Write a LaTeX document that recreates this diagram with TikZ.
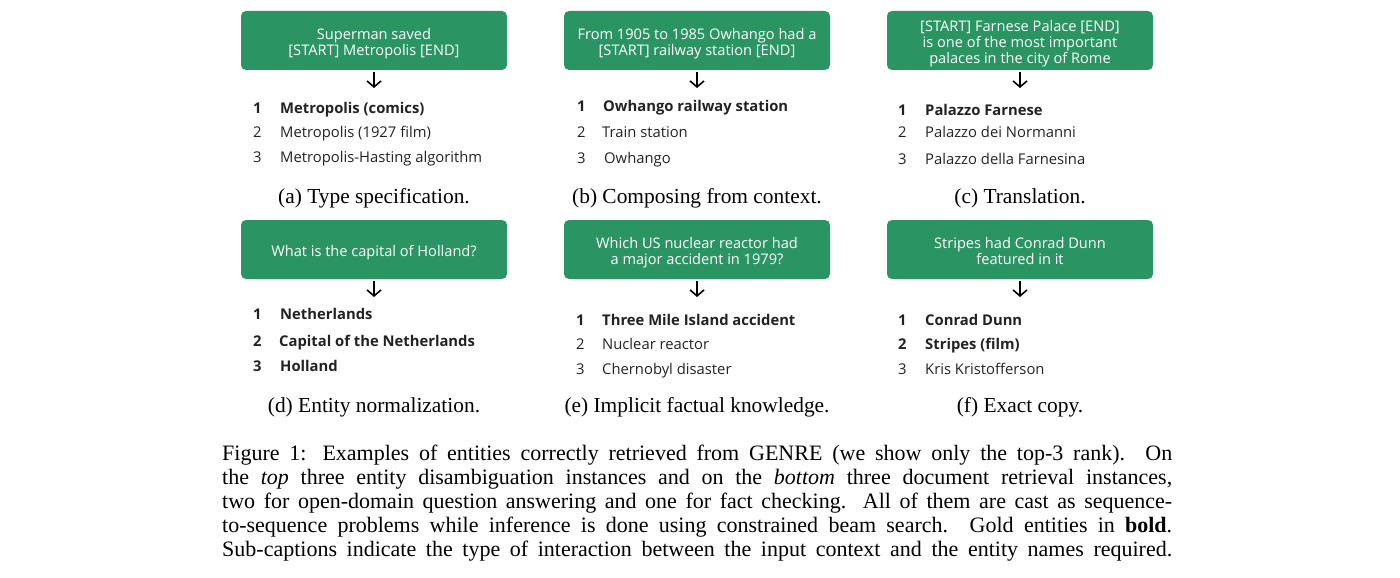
\documentclass[tikz,border=0pt]{standalone}
\usepackage{fontspec}
\setmainfont{Liberation Serif}
\newfontfamily\boxfont{Open Sans}
\usetikzlibrary{arrows.meta}
\definecolor{boxgreen}{HTML}{2B9463}
\definecolor{txtgray}{HTML}{222222}
\newcommand\boxtxt[1]{\raisebox{-3.5pt}[\height][\depth]{\begin{tabular}{@{}c@{}}#1\end{tabular}}}
\begin{document}
\begin{tikzpicture}[x=1pt,y=-1pt,
 inbox/.style={fill=boxgreen, rounded corners=5pt, minimum width=266pt, minimum height=59pt, inner sep=0pt, text=white, font=\boxfont\fontsize{14.6}{16.2}\selectfont},
 flow/.style={draw=black, line width=1.6pt, shorten <=2pt, -{Straight Barb[length=6pt,width=14pt]}},
 rank/.style={anchor=base west, inner sep=0pt, text=txtgray, font=\boxfont\fontsize{14.8}{16}\selectfont},
 gold/.style={rank, font=\boxfont\bfseries\fontsize{14.8}{16}\selectfont},
 sub/.style={anchor=base, inner sep=0pt, font=\fontsize{21.4}{24}\selectfont},
 capline/.style={anchor=base west, inner sep=0pt, font=\fontsize{22}{24}\selectfont}]
\useasboundingbox (0,0) rectangle (1400,578);

% ---- top row ----
\node[inbox] (ba) at (374,40.5) {\boxtxt{Superman saved\\{}[START] Metropolis [END]}};
\node[inbox] (bb) at (697,40.5) {\boxtxt{From 1905 to 1985 Owhango had a\\{}[START] railway station [END]}};
\node[inbox] (bc) at (1020,40.5) {\boxtxt{{}[START] Farnese Palace [END]\\ is one of the most important\\ palaces in the city of Rome}};
\coordinate (ea) at (374,88);
\coordinate (eb) at (697,88);
\coordinate (ec) at (1020,88);
\draw[flow] (ba.south) -- (ea);
\draw[flow] (bb.south) -- (eb);
\draw[flow] (bc.south) -- (ec);

\node[gold] (a1n) at (253,113) {1};
\node[gold] (a1) at (280,113) {Metropolis (comics)};
\node[rank] (a2n) at (253,137) {2};
\node[rank] (a2) at (280,137) {Metropolis (1927 film)};
\node[rank] (a3n) at (253,162) {3};
\node[rank] (a3) at (280,162) {Metropolis-Hasting algorithm};

\node[gold] (b1n) at (577,111) {1};
\node[gold] (b1) at (603,111) {Owhango railway station};
\node[rank] (b2n) at (577,137) {2};
\node[rank] (b2) at (602,137) {Train station};
\node[rank] (b3n) at (577,163) {3};
\node[rank] (b3) at (604,163) {Owhango};

\node[gold] (c1n) at (898,115) {1};
\node[gold] (c1) at (925,115) {Palazzo Farnese};
\node[rank] (c2n) at (898,137) {2};
\node[rank] (c2) at (925,137) {Palazzo dei Normanni};
\node[rank] (c3n) at (898,164) {3};
\node[rank] (c3) at (925,164) {Palazzo della Farnesina};

\node[sub] (sa) at (374,203) {(a) Type specification.};
\node[sub] (sb) at (697,203) {(b) Composing from context.};
\node[sub] (sc) at (1020,203) {(c) Translation.};

% ---- bottom row ----
\node[inbox] (bd) at (374,249.5) {\boxtxt{What is the capital of Holland?}};
\node[inbox] (be) at (697,249.5) {\boxtxt{Which US nuclear reactor had\\ a major accident in 1979?}};
\node[inbox] (bf) at (1020,249.5) {\boxtxt{Stripes had Conrad Dunn\\ featured in it}};
\coordinate (ed) at (374,297);
\coordinate (ee) at (697,297);
\coordinate (ef) at (1020,297);
\draw[flow] (bd.south) -- (ed);
\draw[flow] (be.south) -- (ee);
\draw[flow] (bf.south) -- (ef);

\node[gold] (d1n) at (253,319) {1};
\node[gold] (d1) at (280,319) {Netherlands};
\node[gold] (d2n) at (253,346) {2};
\node[gold] (d2) at (279,346) {Capital of the Netherlands};
\node[gold] (d3n) at (253,371) {3};
\node[gold] (d3) at (280,371) {Holland};

\node[gold] (e1n) at (576,325) {1};
\node[gold] (e1) at (602,325) {Three Mile Island accident};
\node[rank] (e2n) at (576,349) {2};
\node[rank] (e2) at (602,349) {Nuclear reactor};
\node[rank] (e3n) at (576,374) {3};
\node[rank] (e3) at (602,374) {Chernobyl disaster};

\node[gold] (f1n) at (898,325) {1};
\node[gold] (f1) at (925,325) {Conrad Dunn};
\node[gold] (f2n) at (898,349) {2};
\node[gold] (f2) at (925,349) {Stripes (film)};
\node[rank] (f3n) at (898,374) {3};
\node[rank] (f3) at (925,374) {Kris Kristofferson};

\node[sub] (sd) at (374,412) {(d) Entity normalization.};
\node[sub] (se) at (697,412) {(e) Implicit factual knowledge.};
\node[sub] (sf) at (1020,412) {(f) Exact copy.};

% ---- caption ----
\node[capline] (l1) at (222,460) {\hbox to 950pt{Figure 1: Examples of entities correctly retrieved from GENRE (we show only the top-3 rank). On}};
\node[capline] (l2) at (222,484) {\hbox to 950pt{the \textit{top} three entity disambiguation instances and on the \textit{bottom} three document retrieval instances,}};
\node[capline] (l3) at (222,508) {\hbox to 950pt{two for open-domain question answering and one for fact checking. All of them are cast as sequence-}};
\node[capline] (l4) at (222,532) {\hbox to 950pt{to-sequence problems while inference is done using constrained beam search. Gold entities in \textbf{bold}.}};
\node[capline] (l5) at (222,556) {\hbox to 950pt{Sub-captions indicate the type of interaction between the input context and the entity names required.}};
\end{tikzpicture}
\end{document}
